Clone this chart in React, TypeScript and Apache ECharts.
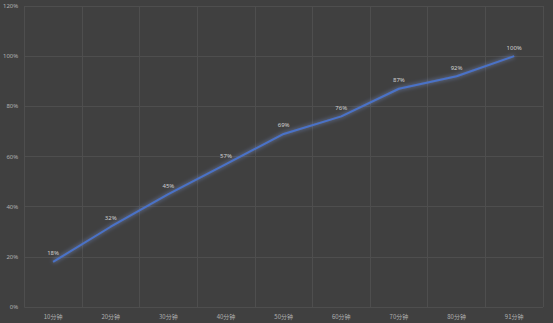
import React, { useEffect, useRef } from "react";
import * as echarts from "echarts";

const categories = ["10分钟", "20分钟", "30分钟", "40分钟", "50分钟", "60分钟", "70分钟", "80分钟", "91分钟"];
const values = [18, 32, 45, 57, 69, 76, 87, 92, 100];
const yTicks = [0, 20, 40, 60, 80, 100, 120];

export default function App() {
  const ref = useRef<HTMLDivElement>(null);
  useEffect(() => {
    const chart = echarts.init(ref.current!, null, { renderer: "svg" });
    chart.setOption({
      animation: false,
      backgroundColor: "#404040",
      grid: { left: 21, right: 10, top: 6, bottom: 16, containLabel: false },
      xAxis: {
        type: "category",
        data: categories,
        boundaryGap: true,
        axisLine: { show: false },
        axisTick: { show: false },
        axisLabel: { color: "#b0b0b0", fontSize: 6, margin: 6, fontFamily: "Noto Sans CJK SC" },
        splitLine: { show: true, lineStyle: { color: "#4e4e4e", width: 1 } },
      },
      yAxis: {
        type: "value",
        min: yTicks[0],
        max: yTicks[yTicks.length - 1],
        interval: 20,
        axisLine: { show: false },
        axisTick: { show: false },
        axisLabel: { color: "#b0b0b0", fontSize: 6, margin: 6, formatter: "{value}%", fontFamily: "Noto Sans" },
        splitLine: { show: true, lineStyle: { color: "#4e4e4e", width: 1 } },
      },
      series: [
        {
          type: "line",
          data: values,
          symbol: "circle",
          symbolSize: 1,
          showSymbol: true,
          itemStyle: { color: "rgba(0,0,0,0)", borderWidth: 0 },
          lineStyle: {
            color: "#4a72c8",
            width: 2,
            shadowColor: "rgba(130,160,235,0.7)",
            shadowBlur: 4,
          },
          label: {
            show: true,
            position: "top",
            distance: 5,
            color: "#d0d0d0",
            fontSize: 6,
            fontFamily: "Noto Sans",
            formatter: "{c}%",
          },
        },
      ],
    });
    return () => chart.dispose();
  }, []);
  return <div ref={ref} style={{ position: "fixed", left: 0, top: 0, width: 553, height: 323 }} />;
}
